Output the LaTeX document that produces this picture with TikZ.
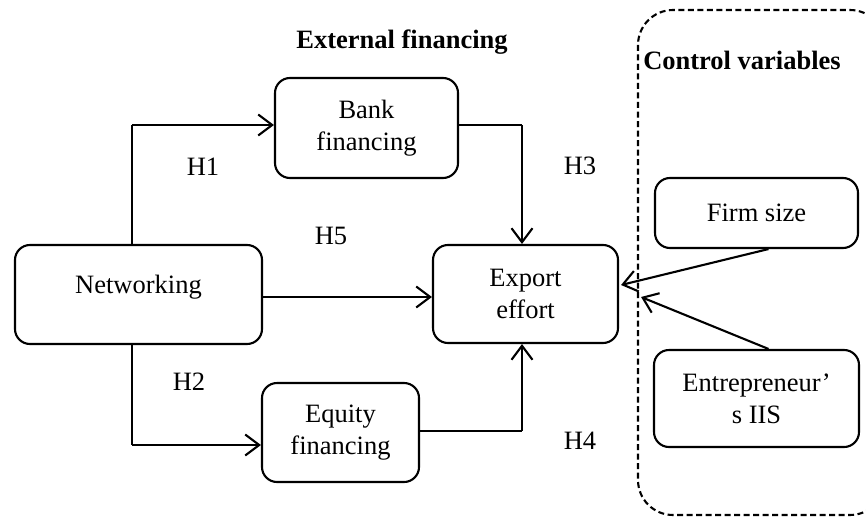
\documentclass[tikz,border=0pt]{standalone}
\usepackage{fontspec}
\setmainfont{Liberation Serif}
\usetikzlibrary{arrows.meta}
\tikzset{
  box/.style={draw, line width=2.1pt, rounded corners=15pt, align=center, inner sep=0pt},
  arr/.style={-{Straight Barb[length=14pt,width=21pt]}},
  thickln/.style={line width=2.1pt},
  thinln/.style={line width=1.2pt},
  lbl/.style={inner sep=0pt},
  ttl/.style={inner sep=0pt, font=\fontsize{26.5}{32}\selectfont\bfseries},
}
\begin{document}
\begin{tikzpicture}[x=1pt,y=-1pt, font=\fontsize{26.5}{32}\selectfont]
\useasboundingbox (0,0) rectangle (866,516);
% dashed control box
\draw[line width=2.1pt, dash pattern=on 6pt off 3.5pt, rounded corners=35pt] (638,10) rectangle (885,515);
% titles
\node[ttl] (t1) at (402,42) {External financing};
\node[ttl] (t2) at (742,60) {Control variables};
% boxes
\node[box, minimum width=183pt, minimum height=100pt] (bank) at (366.5,128) {Bank\\financing};
\node[box, minimum width=247pt, minimum height=99pt, text height=18pt, text depth=21pt] (net) at (138.5,294.5) {Networking};
\node[box, minimum width=185pt, minimum height=98pt] (exp) at (525.5,294) {Export\\effort};
\node[box, minimum width=157pt, minimum height=99pt] (eq) at (340.5,432.5) {Equity\\financing};
\node[box, minimum width=203pt, minimum height=70pt] (firm) at (756.5,213) {Firm size};
\node[box, minimum width=205pt, minimum height=97pt] (ent) at (756.5,398.5) {Entrepreneur’\\s IIS};
% labels
\node[lbl] (h1) at (203,167) {H1};
\node[lbl] (h5) at (331,236) {H5};
\node[lbl] (h3) at (580,166) {H3};
\node[lbl] (h2) at (189,382) {H2};
\node[lbl] (h4) at (580,441) {H4};
% connectors
\coordinate (nu) at ([xshift=-6.5pt]net.north);
\coordinate (nd) at ([xshift=-6.5pt]net.south);
\coordinate (bk) at ([yshift=3pt]bank.west);
\coordinate (eqw) at ([yshift=-12.5pt]eq.west);
\draw[thinln] (nu) -- (nu |- bk);
\draw[thickln, arr] (nu |- bk) -- (bk);
\draw[thinln] (nd) -- (nd |- eqw);
\draw[thickln, arr] (nd |- eqw) -- (eqw);
\coordinate (xb) at ([xshift=-3.5pt]exp.north);
\coordinate (xe) at ([xshift=-3.5pt]exp.south);
\coordinate (be) at ([yshift=3pt]bank.east);
\coordinate (ee) at ([yshift=1.5pt]eq.east);
\draw[thinln] (be) -- (be -| xb);
\draw[thickln, arr] (be -| xb) -- (xb);
\draw[thinln] (ee) -- (ee -| xe);
\draw[thickln, arr] (ee -| xe) -- (xe);
\draw[thickln, arr] ([yshift=-2.5pt]net.east) -- ([yshift=-2.5pt]net.east -| exp.west);
\draw[thickln, arr] ([xshift=12pt]firm.south) -- ([yshift=9pt,xshift=2pt]exp.east);
\draw[thickln, arr] ([xshift=12pt]ent.north) -- ([xshift=22pt,yshift=-3pt]exp.east);
\end{tikzpicture}
\end{document}
